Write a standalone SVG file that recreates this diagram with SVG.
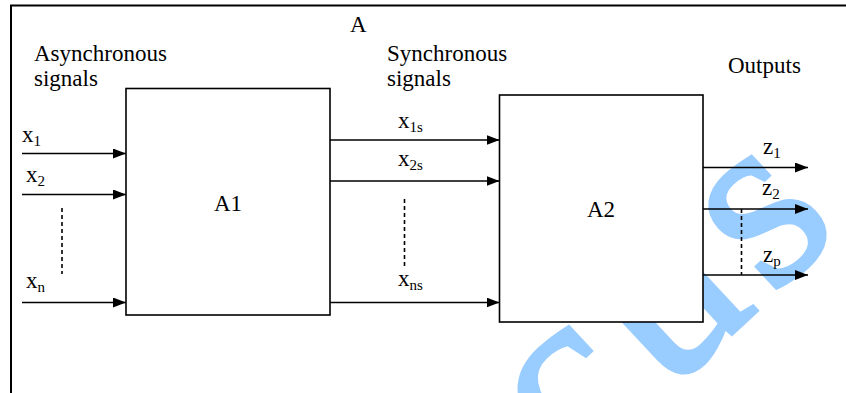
<svg xmlns="http://www.w3.org/2000/svg" width="846" height="393" viewBox="0 0 846 393">
  <defs>
    <marker id="arrow" markerWidth="13" markerHeight="10" refX="13" refY="5" orient="auto" markerUnits="userSpaceOnUse">
      <path d="M0,0 L13,5 L0,10 Z" fill="#000"/>
    </marker>
    <style>
      text { font-family: "Liberation Serif", "Times New Roman", serif; fill: #000; }
      .lbl { font-size: 23px; }
      .sub { font-size: 15px; }
      .box { fill: #fff; stroke: #000; stroke-width: 1.6; }
      .frame { fill: none; stroke: #000; stroke-width: 2; }
      .wire { stroke: #000; stroke-width: 1.6; fill: none; marker-end: url(#arrow); }
      .dots { stroke: #000; stroke-width: 1.6; stroke-dasharray: 4 3; fill: none; }
      .mark { font-size: 255px; letter-spacing: 15px; fill: #99ccff; stroke: #99ccff; stroke-width: 4; }
    </style>
  </defs>

  <rect width="846" height="393" fill="#fff"/>

  <!-- background lettering -->
  <text class="mark" transform="translate(573,482) rotate(-43)">cus</text>

  <!-- enclosing system A -->
  <path class="frame" d="M11,393 V5.5 H846"/>
  <text class="lbl" x="350" y="32">A</text>

  <text class="lbl" x="34" y="61">Asynchronous</text>
  <text class="lbl" x="34" y="86">signals</text>
  <text class="lbl" x="387" y="61">Synchronous</text>
  <text class="lbl" x="387" y="86">signals</text>
  <text class="lbl" x="728" y="73">Outputs</text>

  <g id="connectors">
    <!-- asynchronous inputs -->
    <line class="wire" x1="22" y1="153.5" x2="126" y2="153.5"/>
    <line class="wire" x1="22" y1="194.5" x2="126" y2="194.5"/>
    <line class="wire" x1="22" y1="302.5" x2="126" y2="302.5"/>
    <line class="dots" x1="62" y1="208" x2="62" y2="274"/>
    <!-- synchronous signals -->
    <line class="wire" x1="330" y1="140" x2="499.5" y2="140"/>
    <line class="wire" x1="330" y1="181" x2="499.5" y2="181"/>
    <line class="wire" x1="330" y1="302.5" x2="499.5" y2="302.5"/>
    <line class="dots" x1="404.5" y1="199" x2="404.5" y2="266"/>
    <!-- outputs -->
    <line class="wire" x1="703" y1="167.5" x2="808" y2="167.5"/>
    <line class="wire" x1="703" y1="209" x2="808" y2="209"/>
    <line class="wire" x1="703" y1="275" x2="808" y2="275"/>
    <line class="dots" x1="741.5" y1="209" x2="741.5" y2="275"/>
  </g>

  <g id="labels">
    <text class="lbl" x="22" y="142">x<tspan class="sub" dy="4">1</tspan></text>
    <text class="lbl" x="26" y="182">x<tspan class="sub" dy="4">2</tspan></text>
    <text class="lbl" x="26" y="288">x<tspan class="sub" dy="4">n</tspan></text>
    <text class="lbl" x="398" y="128">x<tspan class="sub" dy="4">1s</tspan></text>
    <text class="lbl" x="398" y="166">x<tspan class="sub" dy="4">2s</tspan></text>
    <text class="lbl" x="398" y="286">x<tspan class="sub" dy="4">ns</tspan></text>
    <text class="lbl" x="763" y="154">z<tspan class="sub" dy="4">1</tspan></text>
    <text class="lbl" x="762" y="195">z<tspan class="sub" dy="4">2</tspan></text>
    <text class="lbl" x="763" y="262">z<tspan class="sub" dy="4">p</tspan></text>
  </g>

  <g id="A1">
    <rect class="box" x="126" y="88.5" width="204" height="226.5"/>
    <text class="lbl" x="228" y="211" text-anchor="middle">A1</text>
  </g>

  <g id="A2">
    <rect class="box" x="499.5" y="95" width="203.5" height="227"/>
    <text class="lbl" x="601" y="217" text-anchor="middle">A2</text>
  </g>
</svg>
